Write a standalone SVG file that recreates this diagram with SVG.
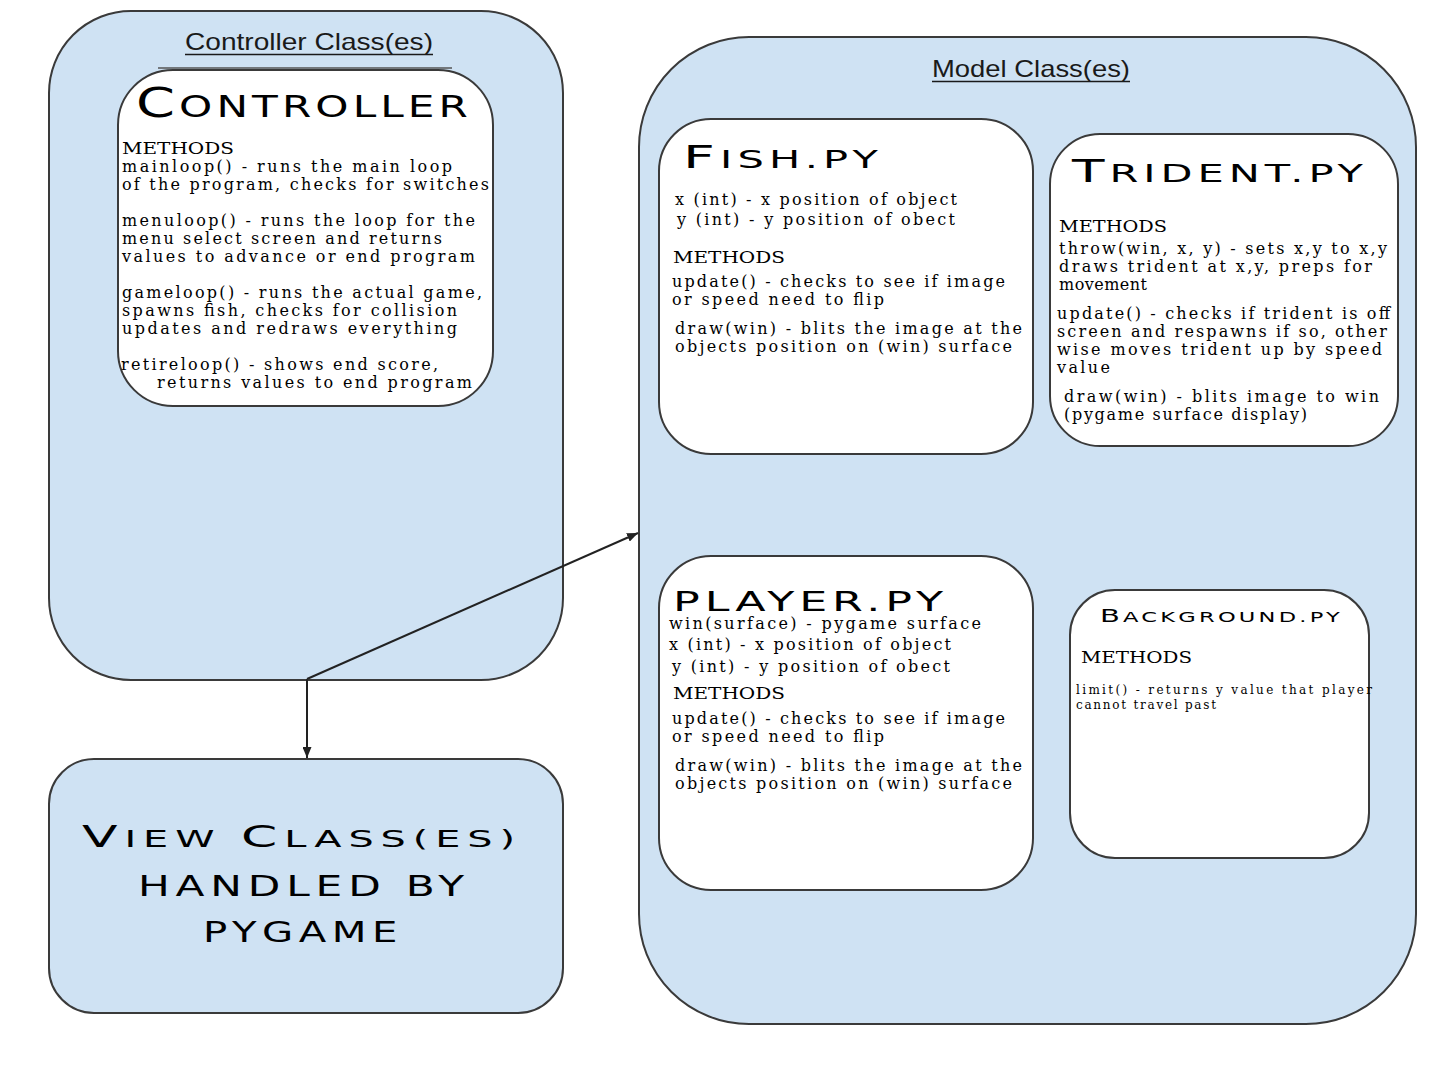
<svg xmlns="http://www.w3.org/2000/svg" width="1438" height="1079" viewBox="0 0 1438 1079">
<defs>
<style>
.outer{fill:#cfe2f3;stroke:#3a3a3a;stroke-width:2}
.inner{fill:#ffffff;stroke:#3a3a3a;stroke-width:2}
.hd{font-family:"DejaVu Sans",sans-serif;fill:#000}
.sec{font-family:"Liberation Sans",Arial,sans-serif;font-size:24px;fill:#1a1a1a}
.b{font-family:"DejaVu Serif","Liberation Serif",serif;font-size:16px;fill:#000}
.bs{font-family:"DejaVu Serif","Liberation Serif",serif;font-size:12px;fill:#000}
.ul{stroke:#1a1a1a;stroke-width:1.6}
.con{stroke:#222;stroke-width:2;fill:none}
</style>
<marker id="arr" markerUnits="userSpaceOnUse" markerWidth="11" markerHeight="9" refX="11" refY="4.5" orient="auto">
<path d="M0,0 L11,4.5 L0,9 z" fill="#222"/>
</marker>
</defs>
<rect width="1438" height="1079" fill="#ffffff"/>

<g id="controller-classes">
<rect class="outer" x="49" y="11" width="514" height="669" rx="82" ry="82"/>
<text class="sec" x="185" y="50" textLength="248" lengthAdjust="spacingAndGlyphs">Controller Class(es)</text>
<line class="ul" x1="185" y1="54.5" x2="433" y2="54.5"/>
</g>

<g id="model-classes">
<rect class="outer" x="639" y="37" width="777" height="987" rx="110" ry="110"/>
<text class="sec" x="932" y="77" textLength="198" lengthAdjust="spacingAndGlyphs">Model Class(es)</text>
<line class="ul" x1="932" y1="81.5" x2="1130" y2="81.5"/>
</g>

<g id="controller">
<line x1="158" y1="68" x2="452" y2="68" stroke="#555" stroke-width="1.5"/>
<rect class="inner" x="118" y="70" width="375" height="336" rx="55" ry="55"/>
<text class="hd" x="136" y="117" textLength="336" lengthAdjust="spacingAndGlyphs" letter-spacing="3"><tspan font-size="41">C</tspan><tspan font-size="31">ONTROLLER</tspan></text>
<text class="b" x="122" y="154" textLength="112" lengthAdjust="spacingAndGlyphs">METHODS</text>
<text class="b" x="122" y="172" textLength="330" lengthAdjust="spacing">mainloop() - runs the main loop</text>
<text class="b" x="122" y="190" textLength="367" lengthAdjust="spacing">of the program, checks for switches</text>
<text class="b" x="122" y="226" textLength="353" lengthAdjust="spacing">menuloop() - runs the loop for the</text>
<text class="b" x="122" y="244" textLength="320" lengthAdjust="spacing">menu select screen and returns</text>
<text class="b" x="122" y="262" textLength="353" lengthAdjust="spacing">values to advance or end program</text>
<text class="b" x="122" y="298" textLength="360" lengthAdjust="spacing">gameloop() - runs the actual game,</text>
<text class="b" x="122" y="316" textLength="335" lengthAdjust="spacing">spawns fish, checks for collision</text>
<text class="b" x="122" y="334" textLength="335" lengthAdjust="spacing">updates and redraws everything</text>
<text class="b" x="121" y="370" textLength="317" lengthAdjust="spacing">retireloop() - shows end score,</text>
<text class="b" x="157" y="388" textLength="315" lengthAdjust="spacing">returns values to end program</text>
</g>

<g id="fish">
<rect class="inner" x="659" y="119" width="374" height="335" rx="52" ry="52"/>
<text class="hd" x="683" y="168" textLength="200" lengthAdjust="spacingAndGlyphs" letter-spacing="3"><tspan font-size="32">F</tspan><tspan font-size="24">ISH.PY</tspan></text>
<text class="b" x="675" y="205" textLength="282" lengthAdjust="spacing">x (int) - x position of object</text>
<text class="b" x="677" y="225" textLength="278" lengthAdjust="spacing">y (int) - y position of obect</text>
<text class="b" x="673" y="263" textLength="112" lengthAdjust="spacingAndGlyphs">METHODS</text>
<text class="b" x="672" y="287" textLength="333" lengthAdjust="spacing">update() - checks to see if image</text>
<text class="b" x="672" y="305" textLength="212" lengthAdjust="spacing">or speed need to flip</text>
<text class="b" x="675" y="334" textLength="347" lengthAdjust="spacing">draw(win) - blits the image at the</text>
<text class="b" x="675" y="352" textLength="337" lengthAdjust="spacing">objects position on (win) surface</text>
</g>

<g id="trident">
<rect class="inner" x="1050" y="134" width="348" height="312" rx="50" ry="50"/>
<text class="hd" x="1072" y="182" textLength="296" lengthAdjust="spacingAndGlyphs" letter-spacing="3"><tspan font-size="32">T</tspan><tspan font-size="25">RIDENT.PY</tspan></text>
<text class="b" x="1059" y="232" textLength="108" lengthAdjust="spacingAndGlyphs">METHODS</text>
<text class="b" x="1059" y="254" textLength="328" lengthAdjust="spacing">throw(win, x, y) - sets x,y to x,y</text>
<text class="b" x="1059" y="272" textLength="313" lengthAdjust="spacing">draws trident at x,y, preps for</text>
<text class="b" x="1059" y="290" textLength="88" lengthAdjust="spacing">movement</text>
<text class="b" x="1057" y="319" textLength="333" lengthAdjust="spacing">update() - checks if trident is off</text>
<text class="b" x="1057" y="337" textLength="330" lengthAdjust="spacing">screen and respawns if so, other</text>
<text class="b" x="1057" y="355" textLength="325" lengthAdjust="spacing">wise moves trident up by speed</text>
<text class="b" x="1057" y="373" textLength="53" lengthAdjust="spacing">value</text>
<text class="b" x="1064" y="402" textLength="315" lengthAdjust="spacing">draw(win) - blits image to win</text>
<text class="b" x="1064" y="420" textLength="243" lengthAdjust="spacing">(pygame surface display)</text>
</g>

<g id="player">
<rect class="inner" x="659" y="556" width="374" height="334" rx="52" ry="52"/>
<text class="hd" x="673" y="611" font-size="27" textLength="275" lengthAdjust="spacingAndGlyphs" letter-spacing="3">PLAYER.PY</text>
<text class="b" x="669" y="629" textLength="312" lengthAdjust="spacing">win(surface) - pygame surface</text>
<text class="b" x="669" y="650" textLength="282" lengthAdjust="spacing">x (int) - x position of object</text>
<text class="b" x="672" y="672" textLength="278" lengthAdjust="spacing">y (int) - y position of obect</text>
<text class="b" x="673" y="699" textLength="112" lengthAdjust="spacingAndGlyphs">METHODS</text>
<text class="b" x="672" y="724" textLength="333" lengthAdjust="spacing">update() - checks to see if image</text>
<text class="b" x="672" y="742" textLength="212" lengthAdjust="spacing">or speed need to flip</text>
<text class="b" x="675" y="771" textLength="347" lengthAdjust="spacing">draw(win) - blits the image at the</text>
<text class="b" x="675" y="789" textLength="337" lengthAdjust="spacing">objects position on (win) surface</text>
</g>

<g id="background">
<rect class="inner" x="1070" y="590" width="299" height="268" rx="45" ry="45"/>
<text class="hd" x="1100" y="622" textLength="243" lengthAdjust="spacingAndGlyphs" letter-spacing="2"><tspan font-size="18">B</tspan><tspan font-size="14">ACKGROUND.PY</tspan></text>
<text class="b" x="1081" y="663" font-size="17" textLength="111" lengthAdjust="spacingAndGlyphs">METHODS</text>
<text class="bs" x="1076" y="694" textLength="296" lengthAdjust="spacing">limit() - returns y value that player</text>
<text class="bs" x="1076" y="709" textLength="140" lengthAdjust="spacing">cannot travel past</text>
</g>

<g id="view">
<rect class="outer" x="49" y="759" width="514" height="254" rx="45" ry="45"/>
<text class="hd" x="82" y="847" textLength="440" lengthAdjust="spacingAndGlyphs" letter-spacing="4"><tspan font-size="30">V</tspan><tspan font-size="23">IEW </tspan><tspan font-size="30">C</tspan><tspan font-size="23">LASS(ES)</tspan></text>
<text class="hd" x="138" y="896" font-size="29" textLength="332" lengthAdjust="spacingAndGlyphs" letter-spacing="4">HANDLED BY</text>
<text class="hd" x="203" y="942" font-size="29" textLength="200" lengthAdjust="spacingAndGlyphs" letter-spacing="4">PYGAME</text>
</g>

<g id="connectors">
<line class="con" x1="307" y1="679" x2="638" y2="533" marker-end="url(#arr)"/>
<line class="con" x1="307" y1="679" x2="307" y2="758" marker-end="url(#arr)"/>
</g>
</svg>
